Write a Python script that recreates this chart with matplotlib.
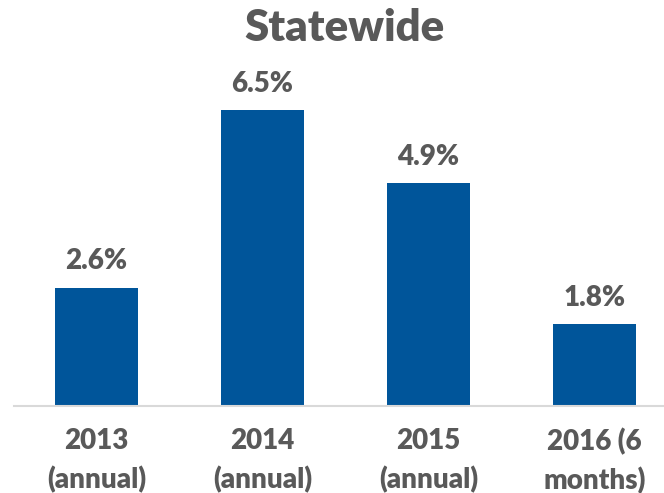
import matplotlib
matplotlib.use("Agg")
import matplotlib.pyplot as plt

categories = ["2013\n(annual)", "2014\n(annual)", "2015\n(annual)", "2016 (6\nmonths)"]
values = [2.6, 6.5, 4.9, 1.8]
value_labels = ["2.6%", "6.5%", "4.9%", "1.8%"]

plt.rcParams['font.family'] = ['Lato', 'DejaVu Sans']
grey = '#595959'
bar_color = '#00559A'
wt = 'heavy'

fig = plt.figure(figsize=(6.64, 4.93), dpi=100)
# axes run off the right edge like the original
ax = fig.add_axes([13.5 / 664, 87 / 493, 664 / 664, 318.5 / 493])

x = list(range(len(values)))
ax.bar(x, values, width=0.5, color=bar_color)

for i, v in enumerate(values):
    ax.annotate(value_labels[i], (i, v), xytext=(0, 19), textcoords='offset points',
                ha='center', va='center', fontsize=20, fontweight=wt, color=grey)

ax.set_xlim(-0.5, 3.5)
ax.set_ylim(0, 7)
ax.set_xticks(x)
ax.set_xticklabels(categories, fontsize=20, fontweight=wt, color=grey, linespacing=1.5)
ax.tick_params(axis='x', length=0, pad=16)
ax.set_yticks([])
for s in ['top', 'right', 'left']:
    ax.spines[s].set_visible(False)
ax.spines['bottom'].set_color('#D9D9D9')
ax.spines['bottom'].set_linewidth(1.5)

fig.text(344 / 664, 1 - 28 / 493, "Statewide", ha='center', va='center',
         fontsize=31.5, fontweight=wt, color=grey)

fig.savefig('out.png', dpi=100)
